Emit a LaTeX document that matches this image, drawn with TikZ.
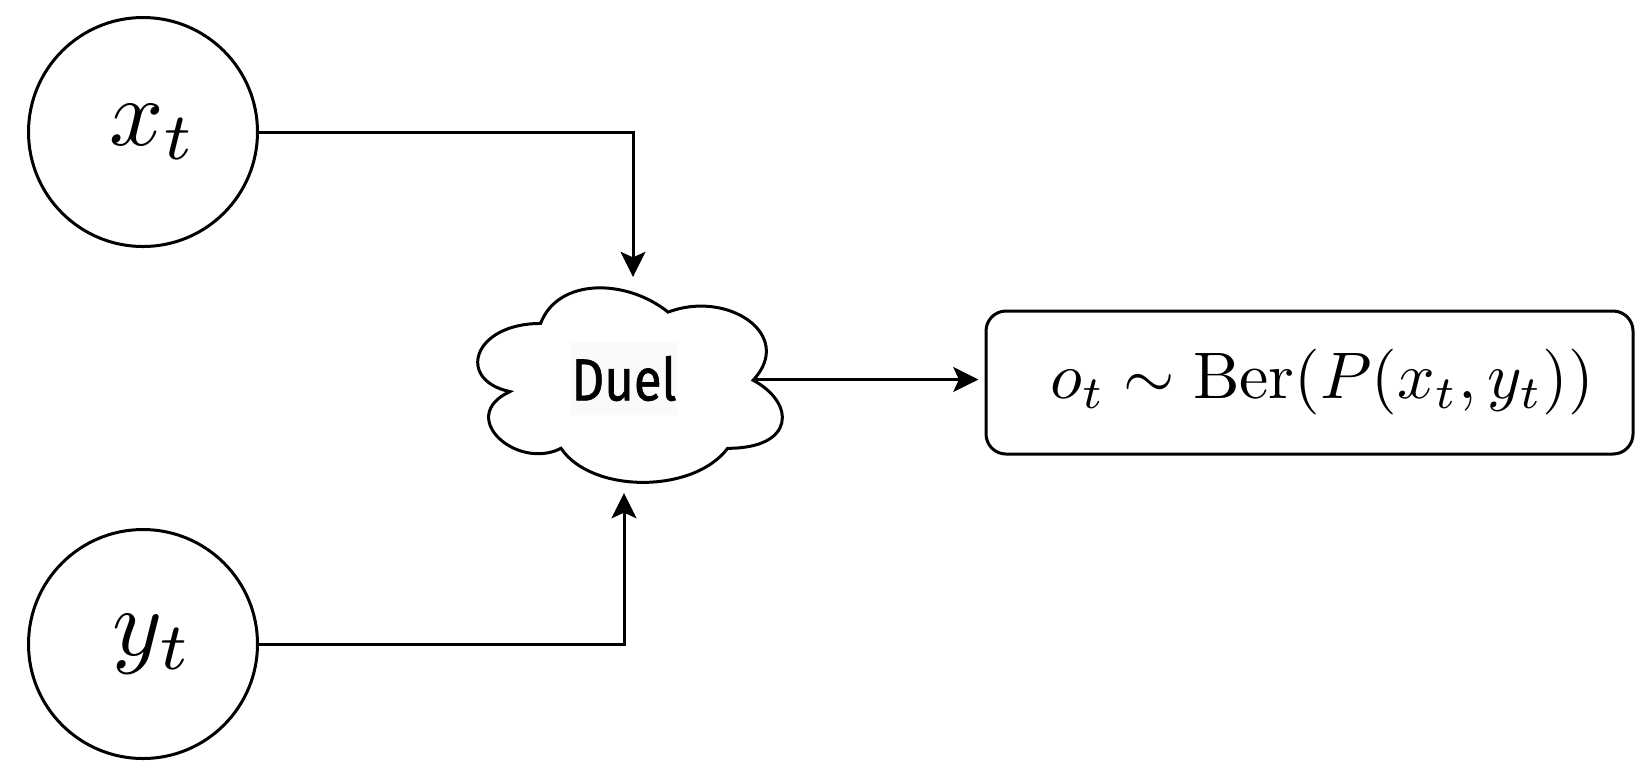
\documentclass[tikz,border=0pt]{standalone}
\usepackage{graphicx}
\usepackage{fontspec}
\newfontfamily\duelfont[FakeBold=1.2]{Fira Sans}
\usetikzlibrary{arrows.meta}
\begin{document}
\begin{tikzpicture}[x=0.25pt,y=-0.25pt,
  line width=0.75pt,
  arr/.style={-{Stealth[length=6.3pt,width=6.2pt,inset=1.4pt]}},
  circ/.style={circle,draw,minimum size=57.25pt,inner sep=0pt},
  obox/.style={draw,rounded corners=5pt,minimum width=161.75pt,minimum height=35.75pt,inner sep=0pt},
  duel/.style={fill=black!2,minimum width=26.5pt,minimum height=18.25pt,inner sep=0pt,font=\duelfont\fontsize{14.8}{17}\selectfont}]
\useasboundingbox (0,0) rectangle (1636,764);
\node[circ] (x) at (143,132) {\hspace*{5pt}\raisebox{-1.8pt}{\scalebox{2.38}{$x_t$}}};
\node[circ] (y) at (143,644) {\hspace*{5pt}\raisebox{-1.8pt}{\scalebox{2.38}{$y_t$}}};
\draw (540.6,323.45)
  .. controls (472.6,323.45) and (455.6,380.2) .. (510,391.55)
  .. controls (455.6,416.5) and (516.8,471) .. (561,448.3)
  .. controls (591.6,493.7) and (693.6,493.7) .. (727.6,448.3)
  .. controls (795.6,448.3) and (795.6,402.9) .. (753.1,380.2)
  .. controls (795.6,334.8) and (727.6,289.4) .. (668.1,312.1)
  .. controls (625.6,278.05) and (557.6,278.05) .. (540.6,323.45) -- cycle;
\node[duel] (cl) at (624,378.5) {\raisebox{-0.6pt}{\scalebox{0.86}[1]{Duel}}};
\coordinate (cTop) at (633,277);
\coordinate (cBot) at (624,493);
\coordinate (cR) at (753.1,379.5);
\node[obox] (o) at (1309.5,382.5) {\hspace*{6.3pt}\scalebox{1.646}{$o_t \sim \mathrm{Ber}(P(x_t, y_t))$}};
\draw[arr] (x.east) -| (cTop);
\draw[arr] (y.east) -| (cBot);
\draw[arr] (cR) -- ([xshift=-1.5pt]cR -| o.west);
\end{tikzpicture}
\end{document}
